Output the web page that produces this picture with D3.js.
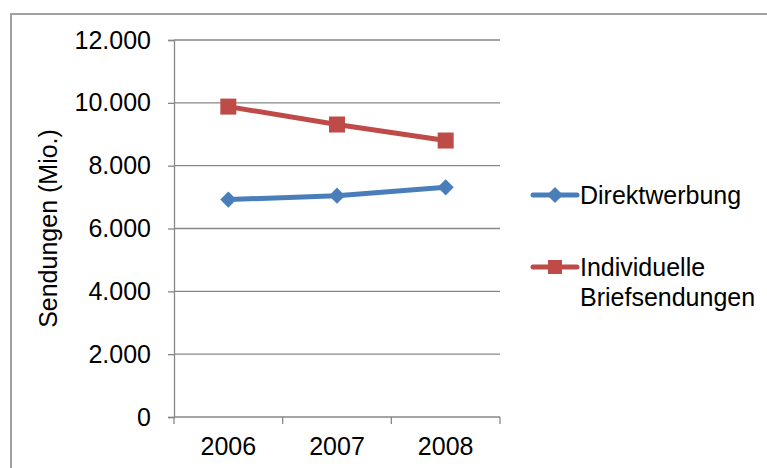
<!DOCTYPE html>
<html>
<head>
<meta charset="utf-8">
<script src="https://cdn.jsdelivr.net/npm/d3@7"></script>
<style>
  html, body { margin: 0; padding: 0; background: #fff; }
  svg { display: block; font-family: "Liberation Sans", Arial, sans-serif; }
</style>
</head>
<body>
<svg id="chart" width="767" height="468"></svg>
<script>
// Postal volumes in millions of items
const years = ["2006", "2007", "2008"];
const direktwerbung = [6920, 7045, 7310];
const individuelle = [9880, 9310, 8800];
const yTicks = [0, 2000, 4000, 6000, 8000, 10000, 12000];
const seriesNames = ["Direktwerbung", "Individuelle Briefsendungen"];

const svg = d3.select("#chart");
const W = 767, H = 468;
const plot = { left: 174, right: 500, top: 40, bottom: 417 };
const gridColor = "#878787";
const fontSize = 25;

// chart frame (open to the right and bottom edges)
svg.append("rect")
  .attr("x", 11).attr("y", 14)
  .attr("width", W + 20).attr("height", H + 20)
  .attr("fill", "#fff")
  .attr("stroke", "#a0a0a0").attr("stroke-width", 2);

const x = d3.scaleBand().domain(years).range([plot.left, plot.right]);
const y = d3.scaleLinear().domain([0, 12000]).range([plot.bottom, plot.top]);

const fmt = v => d3.format(",")(v).replace(/,/g, ".");

// horizontal gridlines
svg.append("g")
  .selectAll("line")
  .data(yTicks.filter(t => t > 0))
  .join("line")
  .attr("x1", plot.left).attr("x2", plot.right)
  .attr("y1", d => y(d)).attr("y2", d => y(d))
  .attr("stroke", gridColor).attr("stroke-width", 1.3);

// y axis
const yAxis = svg.append("g")
  .attr("transform", `translate(${plot.left},0)`)
  .call(d3.axisLeft(y).tickValues(yTicks).tickFormat(fmt).tickSizeOuter(0).tickSize(6).tickPadding(17));
yAxis.select(".domain").attr("stroke", gridColor).attr("stroke-width", 1.3);
yAxis.selectAll(".tick line").attr("stroke", gridColor).attr("stroke-width", 1.3);
yAxis.selectAll(".tick text")
  .attr("font-size", fontSize).attr("fill", "#000")
  .attr("font-family", "Liberation Sans, Arial, sans-serif");

// x axis with ticks between categories
const xAxis = svg.append("g")
  .attr("transform", `translate(0,${plot.bottom})`);
xAxis.append("line")
  .attr("x1", plot.left).attr("x2", plot.right)
  .attr("y1", 0).attr("y2", 0)
  .attr("stroke", gridColor).attr("stroke-width", 1.3);
const bounds = years.map(d => x(d)).concat([plot.right]);
xAxis.selectAll("line.tk")
  .data(bounds)
  .join("line").attr("class", "tk")
  .attr("x1", d => d).attr("x2", d => d)
  .attr("y1", 0).attr("y2", 7)
  .attr("stroke", gridColor).attr("stroke-width", 1.3);
xAxis.selectAll("text")
  .data(years)
  .join("text")
  .attr("x", d => x(d) + x.bandwidth() / 2)
  .attr("y", 38)
  .attr("text-anchor", "middle")
  .attr("font-size", fontSize)
  .text(d => d);

// y axis title
svg.append("text")
  .attr("transform", `translate(57,${(plot.top + plot.bottom) / 2}) rotate(-90)`)
  .attr("text-anchor", "middle")
  .attr("font-size", fontSize)
  .text("Sendungen (Mio.)");

const blue = "#4A7EBB";
const red = "#BE4B48";
const cx = d => x(d) + x.bandwidth() / 2;
const line = d3.line().x((d, i) => cx(years[i])).y(d => y(d));

// Direktwerbung series
svg.append("path").datum(direktwerbung)
  .attr("d", line).attr("fill", "none")
  .attr("stroke", blue).attr("stroke-width", 5).attr("stroke-linejoin", "round");
const diamond = d3.symbol().type(d3.symbolSquare).size(130);
svg.append("g").selectAll("path")
  .data(direktwerbung)
  .join("path")
  .attr("d", diamond)
  .attr("transform", (d, i) => `translate(${cx(years[i])},${y(d)}) rotate(45)`)
  .attr("fill", blue);

// Individuelle Briefsendungen series
svg.append("path").datum(individuelle)
  .attr("d", line).attr("fill", "none")
  .attr("stroke", red).attr("stroke-width", 5).attr("stroke-linejoin", "round");
svg.append("g").selectAll("rect")
  .data(individuelle)
  .join("rect")
  .attr("x", (d, i) => cx(years[i]) - 8)
  .attr("y", d => y(d) - 8)
  .attr("width", 16).attr("height", 16)
  .attr("fill", red);

// legend
const legend = svg.append("g");
const legendItems = [
  { color: blue, marker: "diamond", y: 195, lines: ["Direktwerbung"] },
  { color: red, marker: "square", y: 267, lines: ["Individuelle", "Briefsendungen"] }
];
legendItems.forEach(item => {
  legend.append("line")
    .attr("x1", 533).attr("x2", 577)
    .attr("y1", item.y).attr("y2", item.y)
    .attr("stroke", item.color).attr("stroke-width", 5).attr("stroke-linecap", "round");
  if (item.marker === "diamond") {
    legend.append("path").attr("d", diamond)
      .attr("transform", `translate(555,${item.y}) rotate(45)`)
      .attr("fill", item.color);
  } else {
    legend.append("rect")
      .attr("x", 548).attr("y", item.y - 7)
      .attr("width", 14).attr("height", 14)
      .attr("fill", item.color);
  }
  item.lines.forEach((t, i) => {
    legend.append("text")
      .attr("x", 580).attr("y", item.y + i * 30)
      .attr("dy", "0.35em")
      .attr("font-size", fontSize)
      .text(t);
  });
});
</script>
</body>
</html>
